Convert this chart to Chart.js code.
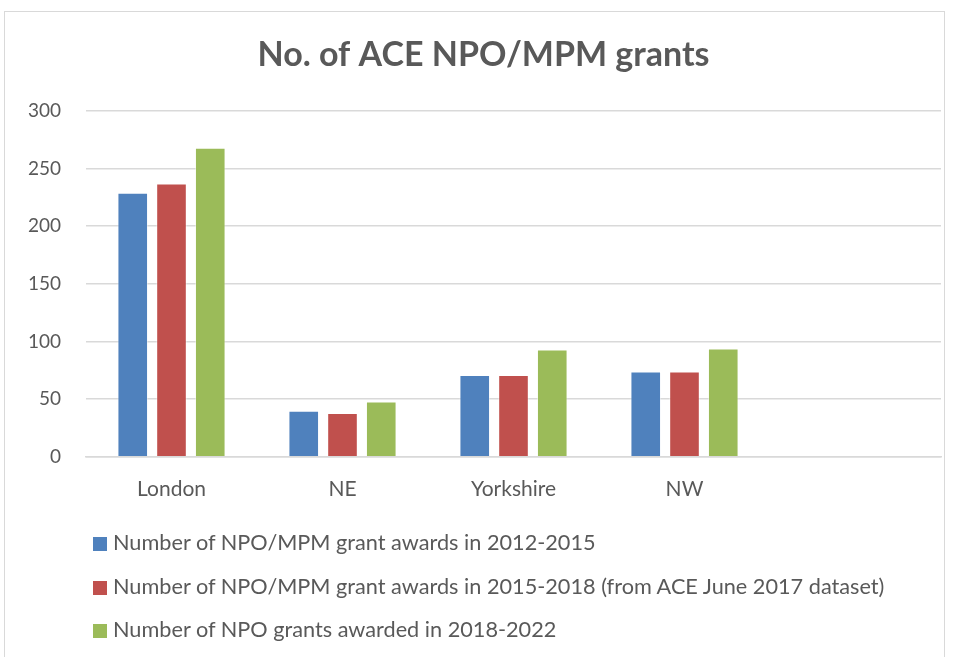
<!DOCTYPE html>
<html>
<head>
<meta charset="utf-8">
<script src="https://cdn.jsdelivr.net/npm/chart.js@4/dist/chart.umd.min.js"></script>
<style>
	body { margin: 0; background: #fff; font-family: Lato, "Open Sans", sans-serif; }
	#frame { position: absolute; left: 4px; top: 11px; width: 941px; height: 660px; border: 1px solid #d9d9d9; box-sizing: border-box; }
	#wrap { position: absolute; left: 0; top: 0; width: 940px; height: 514px; }
	#legend { position: absolute; left: 88px; top: 509px; color: #595959; font-size: 21.7px; }
	#legend div { height: 43.5px; line-height: 43.5px; white-space: nowrap; }
	#legend span { display: inline-block; width: 14px; height: 14px; margin-right: 6px; vertical-align: -1px; }
</style>
</head>
<body>
<div id="frame">
	<div id="wrap"><canvas id="c"></canvas></div>
	<div id="legend"></div>
</div>
<script>
// datos del gráfico
const regions = ['London', 'NE', 'Yorkshire', 'NW', ''];
const grants2012 = [229, 40, 71, 74, null];
const grants2015 = [237, 38, 71, 74, null];
const grants2018 = [268, 48, 93, 94, null];
const seriesNames = [
	'Number of NPO/MPM grant awards in 2012-2015',
	'Number of NPO/MPM grant awards in 2015-2018 (from ACE June 2017 dataset)',
	'Number of NPO grants awarded in 2018-2022'
];
const colors = ['#4f81bd', '#c0504d', '#9bbb59'];
const yTicks = [0, 50, 100, 150, 200, 250, 300];

const txt = '#595959';
const values = [grants2012, grants2015, grants2018];

const chart = new Chart(document.getElementById('c'), {
	type: 'bar',
	data: {
		labels: regions,
		datasets: seriesNames.map((n, i) => ({
			label: n,
			data: values[i],
			backgroundColor: colors[i],
			borderColor: 'rgba(255,255,255,0.45)',
			borderWidth: 1,
			categoryPercentage: 0.68,
			barPercentage: 0.79
		}))
	},
	options: {
		responsive: true,
		maintainAspectRatio: false,
		animation: false,
		layout: { padding: { left: 21, right: 4, top: 0, bottom: 12 } },
		plugins: {
			legend: { display: false },
			tooltip: { enabled: false },
			title: {
				display: true,
				text: 'No. of ACE NPO/MPM grants',
				color: txt,
				font: { family: 'Lato', size: 34, weight: 'bold' },
				padding: { top: 23, bottom: 35 }
			}
		},
		scales: {
			x: {
				grid: { display: false },
				border: { color: '#d9d9d9', width: 1.5 },
				ticks: { color: txt, font: { family: 'Lato', size: 21 }, padding: 12 }
			},
			y: {
				min: 0, max: 300,
				afterFit: axis => { axis.width = 60; },
				afterBuildTicks: axis => { axis.ticks = yTicks.map(v => ({ value: v })); },
				grid: { color: '#d9d9d9', lineWidth: 1.5, drawTicks: false },
				border: { display: false },
				ticks: { color: txt, font: { family: 'Lato', size: 19 }, padding: 25 }
			}
		}
	}
});

// leyenda vertical
const lg = document.getElementById('legend');
seriesNames.forEach((n, i) => {
	const d = document.createElement('div');
	d.innerHTML = '<span style="background:' + colors[i] + '"></span>' + n;
	lg.appendChild(d);
});
</script>
</body>
</html>
